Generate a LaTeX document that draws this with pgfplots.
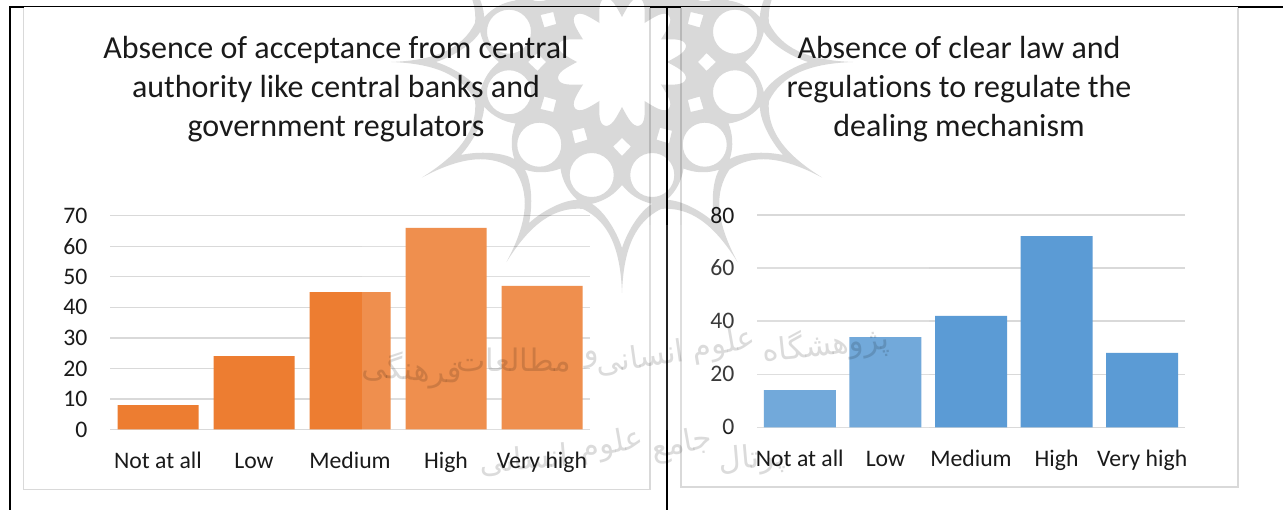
\documentclass[border=0pt]{standalone}
\usepackage{pgfplots}
\pgfplotsset{compat=1.18}
\usepackage{fontspec}
\setmainfont[Ligatures=CommonOff]{Carlito}
\newfontfamily\arabicfont[Script=Arabic]{DejaVu Sans}
\TeXXeTstate=1
\definecolor{gridgrey}{HTML}{D9D9D9}
\definecolor{chartorange}{HTML}{ED7D31}
\definecolor{chartblue}{HTML}{5B9BD5}
\definecolor{inktext}{HTML}{1A1A1A}
\pgfplotsset{
  surveybars/.style={
    scale only axis,
    ybar,
    ymin=0,
    xmin=-0.5, xmax=4.5,
    xtick=data,
    xticklabels={Not at all,Low,Medium,High,Very high},
    axis line style={draw=none},
    major tick length=0pt,
    ymajorgrids,
    grid style={gridgrey,line width=1.4pt},
    tick label style={font=\fontsize{23.7}{23.7}\selectfont,text=inktext},
    xticklabel style={yshift=-20.5pt,text height=15pt,text depth=5pt},
    yticklabel style={xshift=-19pt},
    /pgf/number format/assume math mode=true,
    clip=false,
  },
}
\begin{document}
\begin{tikzpicture}[x=1pt,y=1pt]
\useasboundingbox (0,0) rectangle (1283,510);
% page rules of the surrounding table
\draw[black,line width=2pt] (10,503.3) -- (1283,503.3);
\draw[black,line width=1.8pt] (10,0) -- (10,504.2);
% chart panels
\fill[white] (23.5,20.5) rectangle (650,502.8);
\fill[white] (681,23) rectangle (1238,502.8);
\draw[black,line width=.8pt] (23.5,503.8) -- (650,503.8) (681,503.8) -- (1238,503.8);
\draw[gridgrey,line width=1.5pt] (23.5,502) -- (23.5,20.5) -- (650,20.5) -- (650,502);
\draw[gridgrey,line width=1.5pt] (681,502) -- (681,23) -- (1238,23) -- (1238,502);
\draw[black,line width=1.6pt] (667,0) -- (667,504.2);
% chart titles
\node[align=center,font=\fontsize{32}{39}\selectfont,text=inktext] at (336,420.5) {Absence of acceptance from central\\authority like central banks and\\government regulators};
\node[align=center,font=\fontsize{32}{39}\selectfont,text=inktext] at (959,420.5) {Absence of clear law and\\regulations to regulate the\\dealing mechanism};
% acceptance by central authorities
\begin{axis}[surveybars,at={(110pt,80.5pt)},anchor=south west,
  width=480pt,height=213.8pt,ymax=70,ytick={0,10,...,70},bar width=81pt]
\addplot[fill=chartorange,draw=none] coordinates {(0,8) (1,24) (2,45) (3,66) (4,47)};
\end{axis}
% clarity of law and regulation
\begin{axis}[surveybars,at={(757pt,82.7pt)},anchor=south west,
  width=428pt,height=212.3pt,ymax=80,ytick={0,20,...,80},bar width=72pt]
\addplot[fill=chartblue,draw=none] coordinates {(0,14) (1,34) (2,42) (3,72) (4,28)};
\end{axis}
% pale veil of the background emblem across the middle bars
\fill[white,opacity=.14] (361.5,80) rectangle (929,285);
% background emblem
\begin{scope}
\clip (0,0) rectangle (1283,510);
\begin{scope}[shift={(622,448)}]
\fill[black,opacity=.15,even odd rule]
  (0:231) \foreach \a in {0,30,...,330} {
     .. controls ({\a+0.5}:185) and ({\a+5}:160) .. ({\a+15}:152)
     .. controls ({\a+25}:160) and ({\a+29.5}:185) .. ({\a+30}:231)
  } -- cycle
  \foreach \a in {15,45,...,345} { (\a:117) circle (22) }
  \foreach \a in {0,30,...,330} {
     ({\a}:76) -- ({\a+6}:85) -- ({\a}:94) -- ({\a-6}:85) -- cycle
     ({\a}:123) .. controls ({\a+3}:132) and ({\a+7}:140) .. ({\a+12}:145)
        .. controls ({\a+7}:150) and ({\a+2}:168) .. ({\a}:186)
        .. controls ({\a-2}:168) and ({\a-7}:150) .. ({\a-12}:145)
        .. controls ({\a-7}:140) and ({\a-3}:132) .. ({\a}:123) -- cycle
  }
  (0:45) \foreach \a in {0,30,...,330} {
     .. controls ({\a+6}:56) and ({\a+9}:66) .. ({\a+15}:66)
     .. controls ({\a+21}:66) and ({\a+24}:56) .. ({\a+30}:45)
  } -- cycle;
\end{scope}
\end{scope}
% publisher's lettering over the charts
\begin{scope}[font=\arabicfont\fontsize{31}{31}\selectfont]
\node[text=black,text opacity=.14,rotate=-4] at (412,140) {\beginR فرهنگی\endR};
\node[text=black,text opacity=.14,rotate=0] at (514,150) {\beginR مطالعات\endR};
\node[text=black,text opacity=.14,rotate=6] at (592,150) {\beginR و\endR};
\node[text=black,text opacity=.14,rotate=8] at (640,152) {\beginR انسانی\endR};
\node[text=black,text opacity=.14,rotate=10] at (724,165) {\beginR علوم\endR};
\node[text=black,text opacity=.14,rotate=6] at (826,165) {\beginR پژوهشگاه\endR};
\node[text=black,text opacity=.14,rotate=5] at (524,50) {\beginR انسانی\endR};
\node[text=black,text opacity=.14,rotate=10] at (612,65) {\beginR علوم\endR};
\node[text=black,text opacity=.14,rotate=10] at (682,65) {\beginR جامع\endR};
\node[text=black,text opacity=.14,rotate=5] at (752,50) {\beginR پرتال\endR};
\end{scope}
\end{tikzpicture}
\end{document}
